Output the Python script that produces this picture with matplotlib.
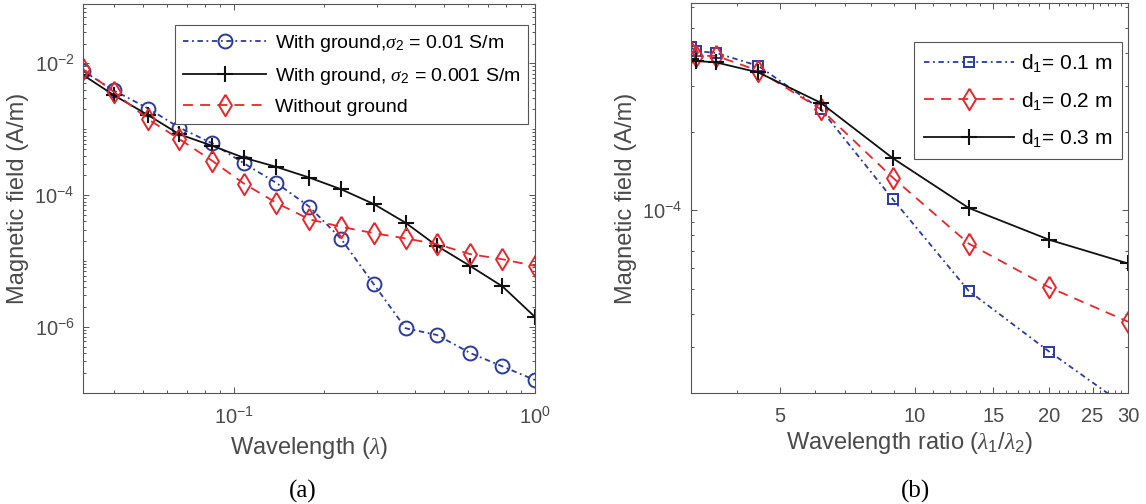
import matplotlib.pyplot as plt
import numpy as np
from matplotlib.ticker import FixedLocator, LogLocator, NullFormatter, FixedFormatter

plt.rcParams['font.family'] = ['Liberation Sans', 'DejaVu Sans']
plt.rcParams['mathtext.fontset'] = 'custom'
plt.rcParams['mathtext.rm'] = 'Liberation Sans'
plt.rcParams['mathtext.sf'] = 'Liberation Sans'
plt.rcParams['mathtext.it'] = 'Liberation Serif:italic'
plt.rcParams['mathtext.bf'] = 'Liberation Sans:bold'

# ---- data, panel (a) ----
wavelength = [0.0316, 0.040, 0.052, 0.066, 0.085, 0.108, 0.138, 0.178,
              0.227, 0.292, 0.372, 0.473, 0.609, 0.78, 1.0]
h_ground_001 = [7.7e-3, 3.9e-3, 2.07e-3, 1.06e-3, 6.1e-4, 3.05e-4, 1.55e-4, 6.7e-5,
                2.18e-5, 4.4e-6, 9.5e-7, 7.5e-7, 4.0e-7, 2.5e-7, 1.55e-7]
h_ground_0001 = [6.7e-3, 3.3e-3, 1.64e-3, 8.4e-4, 5.6e-4, 3.7e-4, 2.7e-4, 1.85e-4,
                 1.23e-4, 7.3e-5, 3.8e-5, 1.69e-5, 8.4e-6, 4.1e-6, 1.41e-6]
h_no_ground = [8.2e-3, 3.7e-3, 1.42e-3, 7.1e-4, 3.3e-4, 1.5e-4, 7.7e-5, 4.3e-5,
               3.3e-5, 2.64e-5, 2.2e-5, 1.8e-5, 1.27e-5, 1.06e-5, 8.4e-6]
labels_a = [r'With ground,$\sigma_2$ = 0.01 S/m',
            r'With ground, $\sigma_2$ = 0.001 S/m',
            'Without ground']

# ---- data, panel (b) ----
ratio = [3.16, 3.25, 3.6, 4.47, 6.16, 8.94, 13.2, 20, 30]
h_d01 = [4.2e-4, 4.07e-4, 4.0e-4, 3.57e-4, 2.44e-4, 1.10e-4, 4.91e-5, 2.87e-5, 1.75e-5]
h_d02 = [4.02e-4, 3.9e-4, 3.9e-4, 3.42e-4, 2.44e-4, 1.33e-4, 7.45e-5, 5.06e-5, 3.74e-5]
h_d03 = [3.79e-4, 3.73e-4, 3.68e-4, 3.37e-4, 2.58e-4, 1.58e-4, 1.02e-4, 7.7e-5, 6.25e-5]
labels_b = [r'$\mathrm{d}_1$= 0.1 m', r'$\mathrm{d}_1$= 0.2 m', r'$\mathrm{d}_1$= 0.3 m']
ratio_ticks = [5, 10, 15, 20, 25, 30]

BLUE = '#2b3a9c'
RED = '#e8262b'
BLACK = '#111111'
GRAY = '#4a4a4a'
SPINE = '#555555'
diamond = [(0, 1), (0.6, 0), (0, -1), (-0.6, 0), (0, 1)]
dashdot = (3, 2, 1, 2)
dashed = (5.5, 4)

fig = plt.figure(figsize=(11.46, 5.04), dpi=100)
ax1 = fig.add_axes([83 / 1146, 0.221, 452 / 1146, 0.771])
ax2 = fig.add_axes([691 / 1146, 0.221, 437 / 1146, 0.7724])


def style_axes(ax):
    for s in ax.spines.values():
        s.set_color(SPINE)
        s.set_linewidth(0.8)
    ax.tick_params(which='both', direction='in', top=True, right=True,
                   colors=SPINE, labelcolor=GRAY, labelsize=14.5, width=0.7)
    ax.tick_params(which='major', length=4.5)
    ax.tick_params(which='minor', length=2.5)
    ax.tick_params(axis='x', which='major', pad=10)
    ax.tick_params(axis='y', which='major', pad=6)


# panel (a)
ax1.plot(wavelength, h_ground_001, color=BLUE, lw=1.3, dashes=dashdot,
         marker='o', ms=10, mfc='none', mew=1.4, label=labels_a[0])
ax1.plot(wavelength, h_ground_0001, color=BLACK, lw=1.3, ls='-',
         marker='+', ms=11, mew=1.5, label=labels_a[1])
ax1.plot(wavelength, h_no_ground, color=RED, lw=1.3, dashes=dashed,
         marker=diamond, ms=15.5, mfc='none', mew=1.4, label=labels_a[2])
ax1.set_xscale('log')
ax1.set_yscale('log')
ax1.set_xlim(wavelength[0], wavelength[-1])
ax1.set_ylim(1e-7, 0.08)
ax1.yaxis.set_major_locator(FixedLocator([1e-6, 1e-4, 1e-2]))
ax1.yaxis.set_major_formatter(FixedFormatter([r'$10^{-6}$', r'$10^{-4}$', r'$10^{-2}$']))
ax1.yaxis.set_minor_locator(LogLocator(base=10, subs=np.arange(1, 10), numticks=50))
ax1.yaxis.set_minor_formatter(NullFormatter())
ax1.xaxis.set_major_locator(FixedLocator([0.1, 1.0]))
ax1.xaxis.set_major_formatter(FixedFormatter([r'$10^{-1}$', r'$10^{0}$']))
ax1.xaxis.set_minor_locator(LogLocator(base=10, subs=np.arange(2, 10), numticks=50))
ax1.xaxis.set_minor_formatter(NullFormatter())
style_axes(ax1)
ax1.set_xlabel(r'Wavelength ($\lambda$)', fontsize=17, color=GRAY, labelpad=5)
ax1.set_ylabel('Magnetic field (A/m)', fontsize=17, color=GRAY, labelpad=4)
leg1 = ax1.legend(loc='upper left', bbox_to_anchor=(92 / 452, 1 - 21 / 388.6), borderaxespad=0,
                  fontsize=14, handlelength=4.3, handletextpad=0.43, labelspacing=0.61,
                  borderpad=0.4, fancybox=False, framealpha=1, edgecolor=SPINE)
leg1.get_frame().set_linewidth(0.8)

# panel (b)
ax2.plot(ratio, h_d01, color=BLUE, lw=1.3, dashes=dashdot,
         marker='s', ms=7.5, mfc='none', mew=1.4, label=labels_b[0])
ax2.plot(ratio, h_d02, color=RED, lw=1.3, dashes=dashed,
         marker=diamond, ms=15.5, mfc='none', mew=1.4, label=labels_b[1])
ax2.plot(ratio, h_d03, color=BLACK, lw=1.3, ls='-',
         marker='+', ms=11, mew=1.5, label=labels_b[2])
ax2.set_xscale('log')
ax2.set_yscale('log')
ax2.set_xlim(ratio[0], ratio[-1])
ax2.set_ylim(2e-5, 6.2e-4)
ax2.yaxis.set_major_locator(FixedLocator([1e-4]))
ax2.yaxis.set_major_formatter(FixedFormatter([r'$10^{-4}$']))
ax2.yaxis.set_minor_locator(LogLocator(base=10, subs=np.arange(2, 10), numticks=50))
ax2.yaxis.set_minor_formatter(NullFormatter())
ax2.xaxis.set_major_locator(FixedLocator(ratio_ticks))
ax2.xaxis.set_major_formatter(FixedFormatter([str(t) for t in ratio_ticks]))
ax2.xaxis.set_minor_locator(FixedLocator(list(range(4, 30))))
ax2.xaxis.set_minor_formatter(NullFormatter())
style_axes(ax2)
ax2.set_xlabel(r'Wavelength ratio ($\lambda_1$/$\lambda_2$)', fontsize=17, color=GRAY, labelpad=3)
ax2.set_ylabel('Magnetic field (A/m)', fontsize=17, color=GRAY, labelpad=4)
leg2 = ax2.legend(loc='upper left', bbox_to_anchor=(223 / 437, 1 - 39 / 389.3), borderaxespad=0,
                  fontsize=15, handlelength=4.33, handletextpad=0.32, labelspacing=0.74,
                  borderpad=0.47, fancybox=False, framealpha=1, edgecolor=SPINE)
leg2.get_frame().set_linewidth(0.8)

fig.text(303 / 1146, 1 - 491 / 504, '(a)', family='Liberation Serif', fontsize=18,
         ha='center', va='center')
fig.text(915 / 1146, 1 - 491 / 504, '(b)', family='Liberation Serif', fontsize=18,
         ha='center', va='center')

fig.savefig('out.png', dpi=100)
